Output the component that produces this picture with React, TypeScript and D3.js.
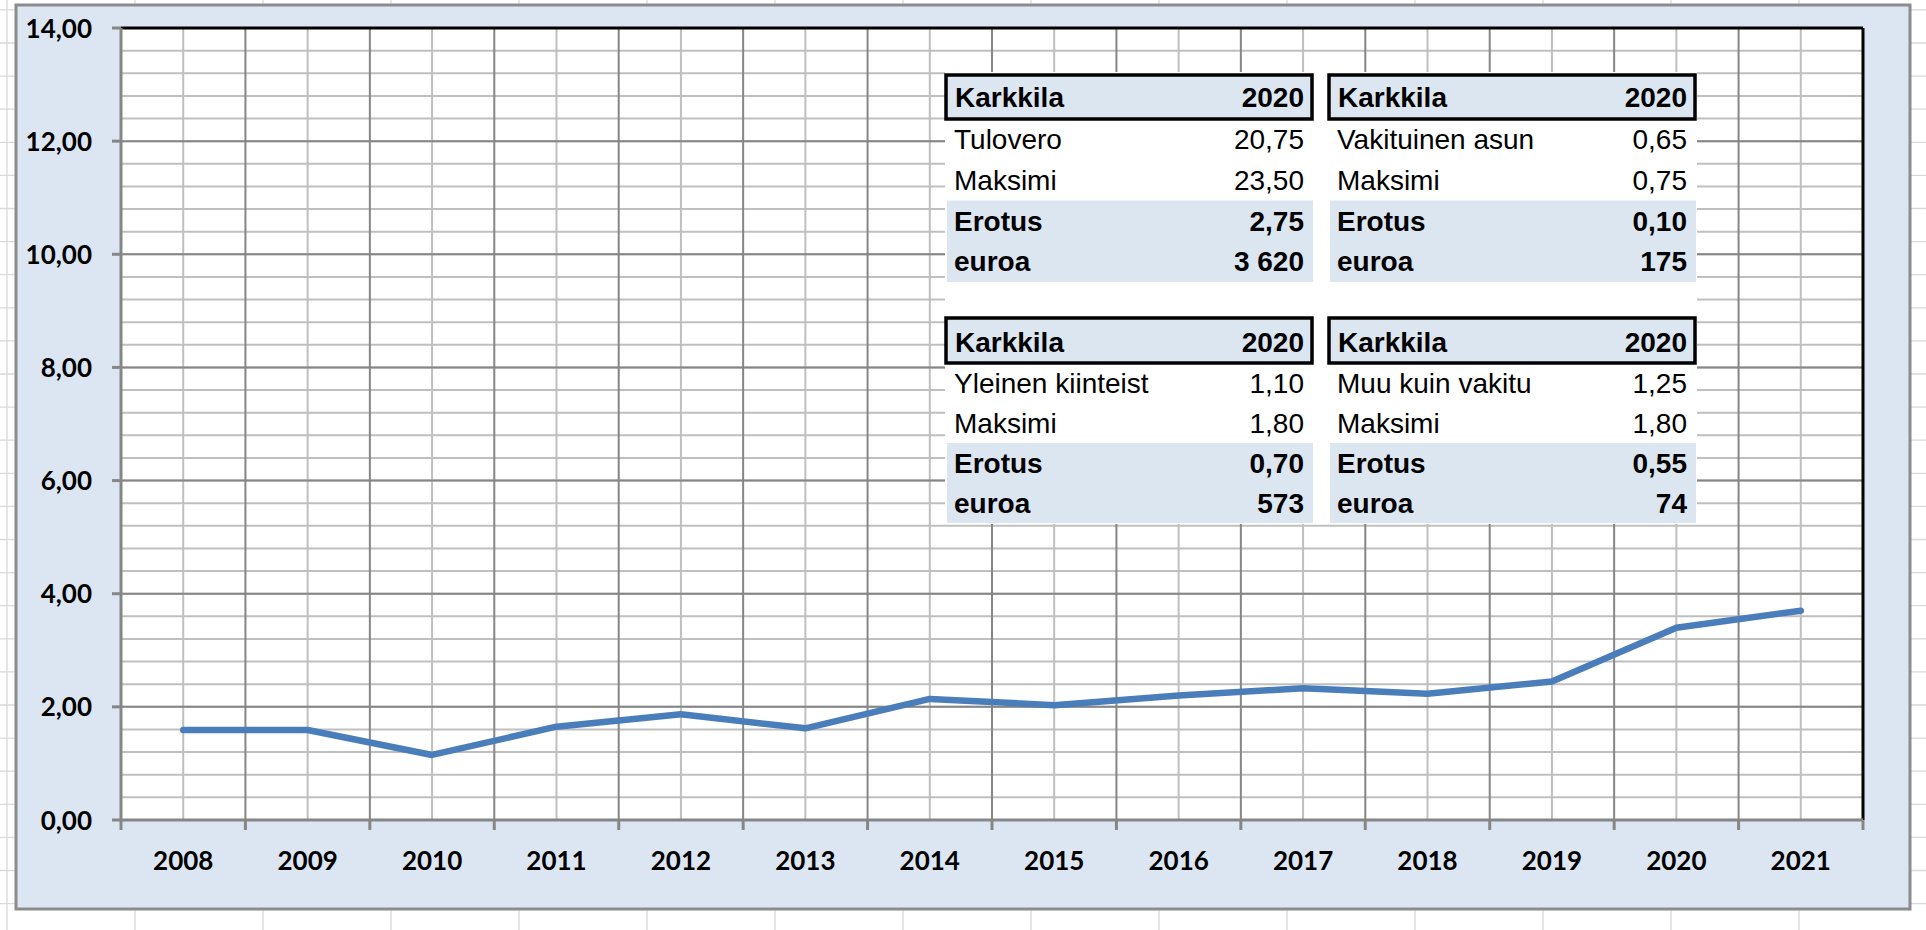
import React from 'react';
import * as d3 from 'd3';

const years = ['2008', '2009', '2010', '2011', '2012', '2013', '2014', '2015', '2016', '2017', '2018', '2019', '2020', '2021'];
const values = [1.59, 1.59, 1.15, 1.65, 1.87, 1.62, 2.14, 2.03, 2.2, 2.33, 2.23, 2.45, 3.4, 3.7];
const yMajorTicks = [0, 2, 4, 6, 8, 10, 12, 14];
const yMinorCount = 35; // 0.4 steps

const tableTitle = 'Karkkila';
const tableYear = '2020';
// labels as they show in the cells (cut at the cell edge)
const tableLabels = [
  ['Tulovero', 'Maksimi', 'Erotus', 'euroa'],
  ['Vakituinen asun', 'Maksimi', 'Erotus', 'euroa'],
  ['Yleinen kiinteist', 'Maksimi', 'Erotus', 'euroa'],
  ['Muu kuin vakitu', 'Maksimi', 'Erotus', 'euroa'],
];
const tableValues = [
  ['20,75', '23,50', '2,75', '3 620'],
  ['0,65', '0,75', '0,10', '175'],
  ['1,10', '1,80', '0,70', '573'],
  ['1,25', '1,80', '0,55', '74'],
];

const W = 1926, H = 930;
const plot = { l: 121, t: 28, r: 1863, b: 820 };
const axisFont = 'Lato, "Open Sans", sans-serif';
const cellFont = '"Liberation Sans", Arial, sans-serif';
const tableBlue = '#dce6f1';

// table placement (col lefts, row tops)
const tblCols = [946, 1329];
const tblW = 367;
const tblRows = [
  { top: 75, headH: 44, bottom: 282, base: 32 },
  { top: 318, headH: 45, bottom: 523, base: 34 },
];

const fmt = (v: number) => d3.format('.2f')(v).replace('.', ',');

const App = () => {
  const x = d3.scaleBand<string>().domain(years).range([plot.l, plot.r]).paddingInner(0).paddingOuter(0);
  const y = d3.scaleLinear().domain([0, 14]).range([plot.b, plot.t]);
  const cx = (yr: string) => (x(yr) ?? 0) + x.bandwidth() / 2;

  const line = d3.line<number>()
    .x((_, i) => cx(years[i]))
    .y(d => y(d));

  const minor = d3.range(0, yMinorCount + 1).map(i => i * 0.4);
  const bounds = years.map(yr => x(yr) ?? 0).concat([plot.r]);

  const sheetCols = d3.range(0, 16).map(k => 7 + 128 * k);
  const sheetRows = d3.range(0, 29).map(k => 9.9 + 33.1 * k);

  return (
    <svg width={W} height={H} style={{ position: 'absolute', left: 0, top: 0, background: '#fff' }}>
      <defs>
        {tblRows.map((r, ri) => tblCols.map((c, ci) => (
          <clipPath key={`c${ri}${ci}`} id={`clip${ri}${ci}`}>
            <rect x={c} y={r.top} width={213} height={r.bottom - r.top} />
          </clipPath>
        )))}
      </defs>
      {/* spreadsheet cells behind */}
      <g stroke="#d9d9d9" strokeWidth={1.3}>
        {sheetCols.map(v => <line key={'sc' + v} x1={v} x2={v} y1={0} y2={H} />)}
        {sheetRows.map(v => <line key={'sr' + v} x1={0} x2={W} y1={v} y2={v} />)}
      </g>
      {/* chart frame */}
      <rect x={16} y={5} width={1894} height={904} fill="#dce6f2" stroke="#8c8c8c" strokeWidth={3} />
      <rect x={plot.l} y={plot.t} width={plot.r - plot.l} height={plot.b - plot.t} fill="#fff" />

      {/* minor gridlines */}
      <g stroke="#bfbfbf" strokeWidth={2}>
        {minor.map(v => <line key={'mh' + v} x1={plot.l} x2={plot.r} y1={y(v)} y2={y(v)} />)}
        {years.map(yr => <line key={'mv' + yr} x1={cx(yr)} x2={cx(yr)} y1={plot.t} y2={plot.b} />)}
      </g>
      {/* major gridlines */}
      <g stroke="#868686" strokeWidth={2}>
        {yMajorTicks.map(v => <line key={'Mh' + v} x1={plot.l} x2={plot.r} y1={y(v)} y2={y(v)} />)}
        {bounds.map(b => <line key={'Mv' + b} x1={b} x2={b} y1={plot.t} y2={plot.b} />)}
      </g>
      {/* plot border */}
      <line x1={plot.l} x2={plot.r} y1={plot.t} y2={plot.t} stroke="#000" strokeWidth={3} />
      <line x1={plot.r} x2={plot.r} y1={plot.t} y2={plot.b} stroke="#000" strokeWidth={3} />

      {/* table overlay */}
      <rect x={945} y={72} width={752} height={452} fill="#fff" />
      {tblRows.map((r, ri) => tblCols.map((c, ci) => {
        const ti = ri * 2 + ci;
        const rowH = (r.bottom - r.top - r.headH) / 4;
        const bodyTop = r.top + r.headH;
        return (
          <g key={'t' + ti}>
            <rect x={c + 1} y={bodyTop + rowH * 2} width={tblW - 1} height={rowH * 2} fill={tableBlue} />
            <rect x={c} y={r.top} width={tblW - 1} height={r.headH} fill={tableBlue} stroke="#000" strokeWidth={3.5} />
            <text x={c + 9} y={r.top + r.base} fontFamily={cellFont} fontWeight="bold" fontSize={28}>{tableTitle}</text>
            <text x={c + tblW - 9} y={r.top + r.base} textAnchor="end" fontFamily={cellFont} fontWeight="bold" fontSize={28}>{tableYear}</text>
            {tableLabels[ti].map((lab, k) => (
              <g key={k}>
                <text x={c + 8} y={bodyTop + rowH * k + 30} clipPath={`url(#clip${ri}${ci})`}
                  fontFamily={cellFont} fontWeight={k >= 2 ? 'bold' : 'normal'} fontSize={28}>{lab}</text>
                <text x={c + tblW - 9} y={bodyTop + rowH * k + 30} textAnchor="end"
                  fontFamily={cellFont} fontWeight={k >= 2 ? 'bold' : 'normal'} fontSize={28}>{tableValues[ti][k]}</text>
              </g>
            ))}
          </g>
        );
      }))}

      {/* axes */}
      <line x1={plot.l} x2={plot.l} y1={plot.t} y2={plot.b + 1.5} stroke="#868686" strokeWidth={3} />
      <line x1={plot.l} x2={plot.r} y1={plot.b} y2={plot.b} stroke="#868686" strokeWidth={3} />
      <g stroke="#868686" strokeWidth={3}>
        {yMajorTicks.map(v => <line key={'yt' + v} x1={plot.l - 9} x2={plot.l} y1={y(v)} y2={y(v)} />)}
        {bounds.map(b => <line key={'xt' + b} x1={b} x2={b} y1={plot.b} y2={plot.b + 10} />)}
      </g>
      {yMajorTicks.map(v => (
        <text key={'yl' + v} x={92} y={y(v) + 9.5} textAnchor="end" fontFamily={axisFont} fontWeight="bold" fontSize={26}>{fmt(v)}</text>
      ))}
      {years.map(yr => (
        <text key={'xl' + yr} x={cx(yr)} y={870} textAnchor="middle" fontFamily={axisFont} fontWeight="bold" fontSize={26}>{yr}</text>
      ))}

      {/* series */}
      <path d={line(values) ?? ''} fill="none" stroke="#4a7ebb" strokeWidth={6.5} strokeLinecap="round" strokeLinejoin="round" />
    </svg>
  );
};

export default App;
